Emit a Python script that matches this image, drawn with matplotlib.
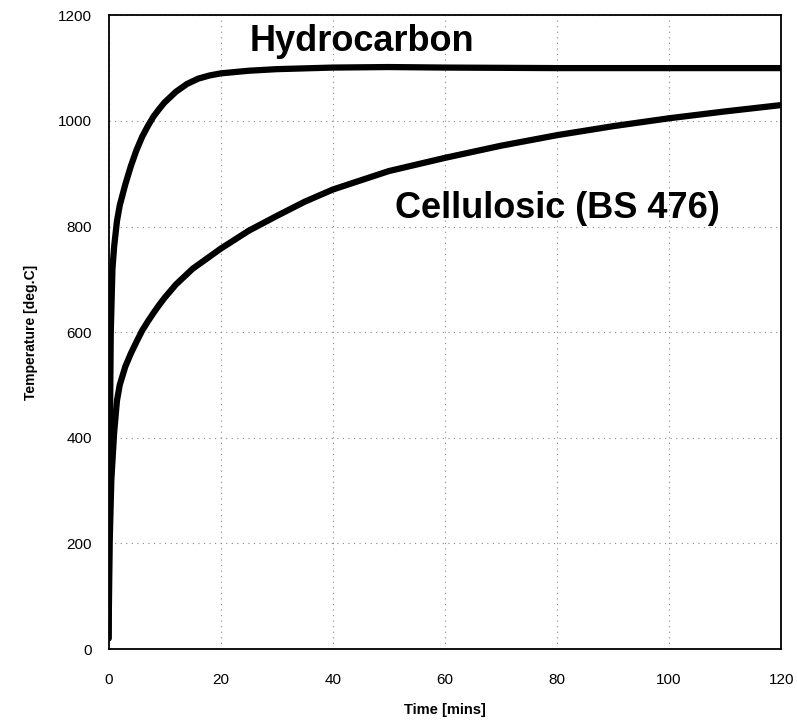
import matplotlib
matplotlib.use("Agg")
import matplotlib.pyplot as plt

plt.rcParams['font.family'] = ['Liberation Sans', 'DejaVu Sans']

# Hydrocarbon fire curve
hc_time = [0, 0.15, 0.4, 0.7, 1.0, 1.5, 2, 3, 4, 5, 6, 7, 8, 9, 10, 12, 14,
           16, 18, 20, 25, 30, 40, 50, 60, 80, 100, 120]
hc_temp = [20, 300, 600, 720, 762, 810, 840, 880, 915, 945, 970, 990, 1008,
           1022, 1035, 1055, 1070, 1080, 1086, 1090, 1095, 1098, 1101, 1102,
           1101, 1100, 1100, 1100]

# Cellulosic (BS 476) curve
cel_time = [0, 0.2, 0.5, 1, 1.5, 2, 3, 4, 5, 6, 7, 8, 9, 10, 12, 15, 20, 25,
            30, 35, 40, 50, 60, 70, 80, 90, 100, 110, 120]
cel_temp = [20, 200, 320, 410, 470, 500, 535, 560, 582, 603, 620, 636, 651,
            665, 690, 720, 758, 792, 820, 847, 870, 905, 930, 953, 973, 990,
            1005, 1018, 1030]

x_ticks = [0, 20, 40, 60, 80, 100, 120]
y_ticks = [0, 200, 400, 600, 800, 1000, 1200]

fig = plt.figure(figsize=(7.98, 7.28), dpi=100)
ax = fig.add_axes([0.136, 0.1085, 0.843, 0.8705])

ax.plot(hc_time, hc_temp, color='black', lw=4.5, solid_capstyle='round',
        solid_joinstyle='round')
ax.plot(cel_time, cel_temp, color='black', lw=4.5, solid_capstyle='round',
        solid_joinstyle='round')

ax.set_xlim(0, 120)
ax.set_ylim(0, 1200)
ax.set_xticks(x_ticks)
ax.set_yticks(y_ticks)
ax.tick_params(length=0, labelsize=11)
ax.tick_params(axis='x', pad=17)
ax.tick_params(axis='y', pad=12)
ax.grid(True, color='#888888', lw=0.8, linestyle=(0, (1, 4)))
for s in ax.spines.values():
    s.set_linewidth(1.3)

ax.set_xlabel('Time [mins]', fontweight='bold', fontsize=10.5, labelpad=12)
ax.set_ylabel('Temperature [deg.C]', fontweight='bold', fontsize=10, labelpad=14)

ax.text(45.2, 1150, 'Hydrocarbon', fontsize=26, fontweight='bold',
        ha='center', va='center')
ax.text(80, 835, 'Cellulosic (BS 476)', fontsize=26, fontweight='bold',
        ha='center', va='center')

fig.savefig('out.png', dpi=100)
